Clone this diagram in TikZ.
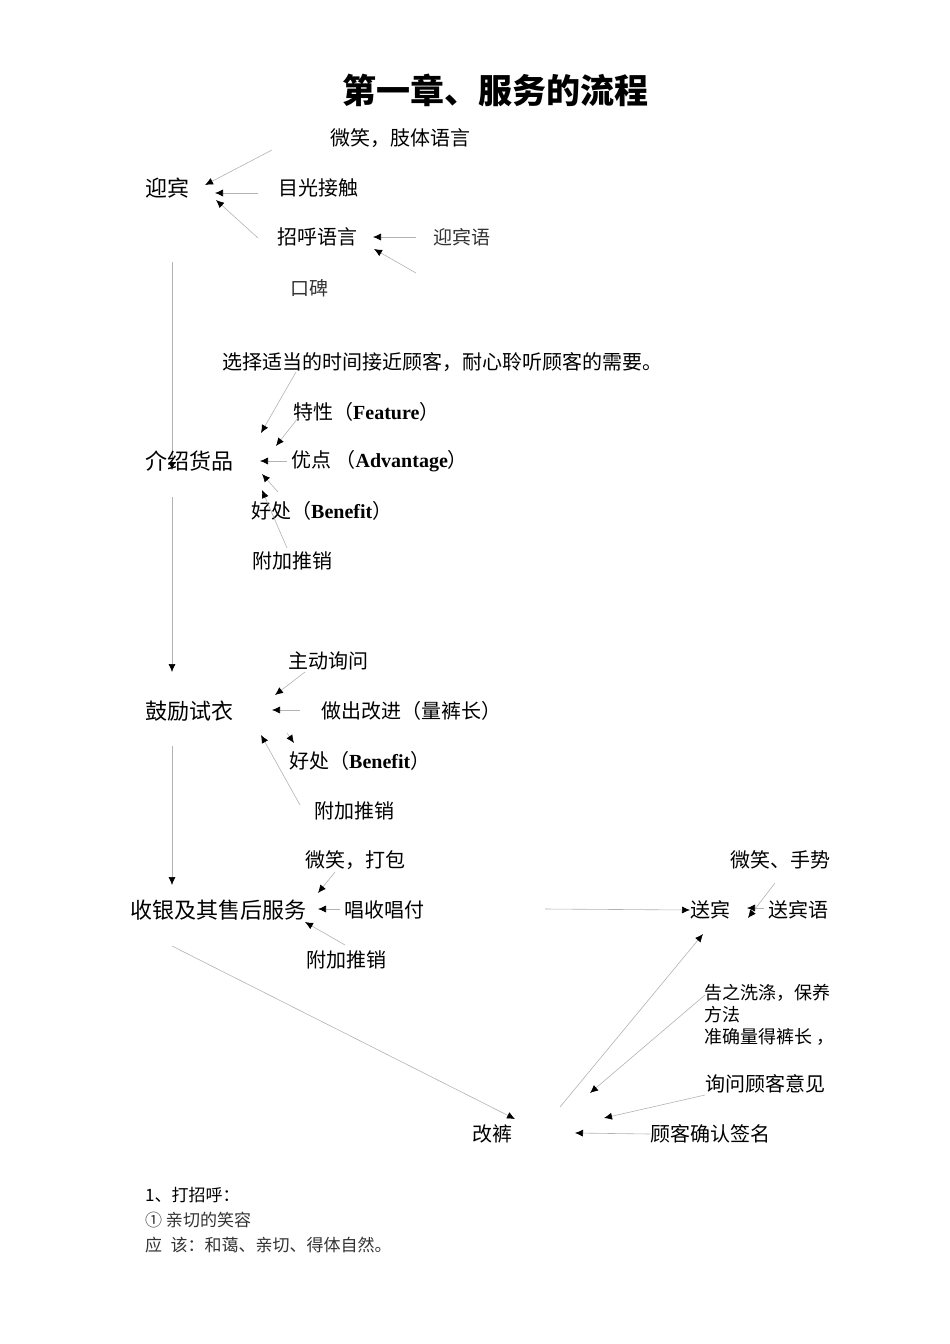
\documentclass[tikz,border=0pt]{standalone}
\usepackage{fontspec}
\setmainfont{Liberation Serif}
\newfontfamily\cjk{Noto Sans CJK SC}
\newcommand{\lat}[1]{{\rmfamily\bfseries #1}}
\usetikzlibrary{arrows.meta}
\begin{document}
\begin{tikzpicture}[x=1pt,y=-1pt,
  lbl/.style={anchor=west,inner sep=0pt,font=\cjk\fontsize{20}{24}\selectfont},
  big/.style={lbl,font=\cjk\fontsize{22}{26}\selectfont},
  thin/.style={lbl,font=\cjk\fontsize{19}{23}\selectfont,text=black!80},
  sm/.style={lbl,font=\cjk\fontsize{18}{22}\selectfont},
  note/.style={lbl,font=\cjk\fontsize{17}{20}\selectfont},
  con/.style={draw=black!30,line width=0.6pt,-{Latex[length=8pt,width=7pt,black]}}]
\useasboundingbox (0,0) rectangle (950,1344);
\node[anchor=center,inner sep=0pt,font=\cjk\bfseries\fontsize{34}{40}\selectfont] (title) at (495,90) {第一章、服务的流程};
% section 1
\node[lbl] (wx1) at (330,138) {微笑，肢体语言};
\node[big] (yb) at (145,188) {迎宾};
\node[lbl] (mg) at (278,188) {目光接触};
\node[lbl] (zh) at (277,237) {招呼语言};
\node[thin] (ybyu) at (433,237) {迎宾语};
\node[thin] (kb) at (290,288) {口碑};
\coordinate (a1) at (272,150); \coordinate (t1) at (205,185);
\coordinate (a2) at (258,193); \coordinate (t2) at (215,193);
\coordinate (a3) at (258,238); \coordinate (t3) at (216,200);
\coordinate (a4) at (416,237); \coordinate (t4) at (373,237);
\coordinate (a5) at (416,273); \coordinate (t5) at (374,249);
\foreach \i in {1,...,5} \draw[con] (a\i) -- (t\i);
% main vertical
\coordinate (v1) at (172,262); \coordinate (v1e) at (172,470);
\coordinate (v2) at (172,497); \coordinate (v2e) at (172,672);
\coordinate (v3) at (172,746); \coordinate (v3e) at (172,885);
\draw[con] (v1) -- (v1e);
\draw[con] (v2) -- (v2e);
\draw[con] (v3) -- (v3e);
% section 2
\node[lbl] (xz) at (222,362) {选择适当的时间接近顾客，耐心聆听顾客的需要。};
\node[lbl] (tx) at (293,412) {特性（\lat{Feature}）};
\node[big] (js) at (145,461) {介绍货品};
\node[lbl] (yd) at (291,461) {优点 （\lat{Advantage}）};
\node[lbl] (hc) at (251,511) {好处（\lat{Benefit}）};
\node[lbl] (fj) at (252,561) {附加推销};
\coordinate (b1) at (296,372); \coordinate (u1) at (261,433);
\coordinate (b2) at (298,418); \coordinate (u2) at (276,446);
\coordinate (b3) at (287,461); \coordinate (u3) at (260,461);
\coordinate (b4) at (278,492); \coordinate (u4) at (262,474);
\coordinate (b5) at (287,548); \coordinate (u5) at (262,490);
\foreach \i in {1,...,5} \draw[con] (b\i) -- (u\i);
% section 3
\node[lbl] (zd) at (288,661) {主动询问};
\node[big] (gl) at (145,711) {鼓励试衣};
\node[lbl] (zc) at (321,711) {做出改进（量裤长）};
\node[lbl] (hc2) at (289,761) {好处（\lat{Benefit}）};
\node[lbl] (fj2) at (314,811) {附加推销};
\coordinate (c1) at (305,672); \coordinate (w1) at (275,695);
\coordinate (c2) at (300,710); \coordinate (w2) at (272,710);
\coordinate (c3) at (287,733); \coordinate (w3) at (294,743);
\coordinate (c4) at (300,805); \coordinate (w4) at (261,735);
\foreach \i in {1,...,4} \draw[con] (c\i) -- (w\i);
% section 4
\node[lbl] (wx2) at (305,860) {微笑，打包};
\node[big] (sy) at (130,910) {收银及其售后服务};
\node[lbl] (cs) at (344,910) {唱收唱付};
\node[lbl] (fj3) at (306,960) {附加推销};
\coordinate (d1) at (335,872); \coordinate (x1) at (318,893);
\coordinate (d2) at (340,909); \coordinate (x2) at (318,909);
\coordinate (d3) at (345,945); \coordinate (x3) at (305,922);
\foreach \i in {1,...,3} \draw[con] (d\i) -- (x\i);
% farewell
\node[lbl] (sb) at (690,910) {送宾};
\node[lbl] (wx3) at (730,860) {微笑、手势};
\node[lbl] (sby) at (768,910) {送宾语};
\coordinate (s0) at (545,909);
\draw[con] (s0) -- (sb.west);
\coordinate (e1) at (775,883); \coordinate (y1) at (748,918);
\coordinate (e2) at (764,908); \coordinate (y2) at (747,908);
\draw[con] (e1) -- (y1);
\draw[con] (e2) -- (y2);
% alteration
\node[lbl] (gk) at (472,1134) {改裤};
\node[sm,align=left,anchor=north west] (gz) at (704,984) {告之洗涤，保养\\方法\\准确量得裤长 ，};
\node[lbl] (xw) at (705,1084) {询问顾客意见};
\node[lbl] (qr) at (650,1134) {顾客确认签名};
\coordinate (f0) at (172,946); \coordinate (g0) at (515,1119);
\draw[con] (f0) -- (g0);
\coordinate (f1) at (560,1107); \coordinate (g1) at (703,934);
\draw[con] (f1) -- (g1);
\coordinate (f2) at (705,995); \coordinate (g2) at (590,1093);
\coordinate (f3) at (705,1095); \coordinate (g3) at (604,1118);
\coordinate (g4) at (575,1133);
\draw[con] (f2) -- (g2);
\draw[con] (f3) -- (g3);
\draw[con] (qr.west) -- (g4);
% notes
\node[note] (n1) at (145,1195) {1、打招呼：};
\node[note,text=black!80] (n2) at (145,1220) {① 亲切的笑容};
\node[note,text=black!80] (n3) at (145,1245) {应\hspace{0.5em}该：和蔼、亲切、得体自然。};
\end{tikzpicture}
\end{document}
